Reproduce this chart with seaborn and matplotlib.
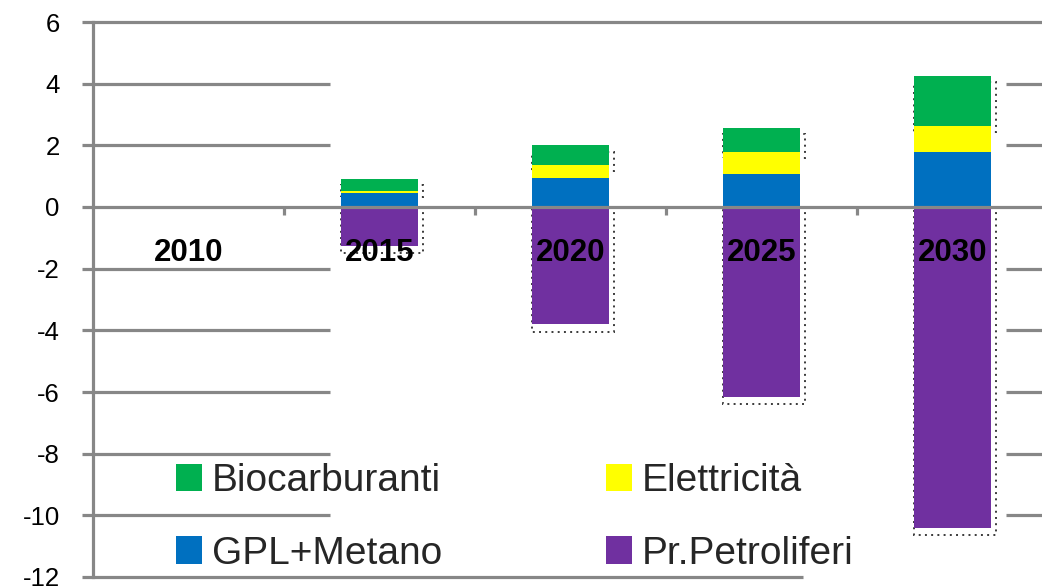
import numpy as np
import matplotlib
matplotlib.use('Agg')
import matplotlib.pyplot as plt
import seaborn as sns
from matplotlib.patches import Patch

# Data
years = ['2010', '2015', '2020', '2025', '2030']
gpl_metano = [0.0, 0.45, 0.95, 1.07, 1.78]
elettricita = [0.0, 0.07, 0.42, 0.71, 0.85]
biocarburanti = [0.0, 0.40, 0.63, 0.78, 1.62]
pr_petroliferi = [0.0, -1.25, -3.80, -6.15, -10.40]

# legend order (filled column by column -> rows read Bio/Elett, GPL/Petrol)
legend_names = ['Biocarburanti', 'GPL+Metano', 'Elettricità', 'Pr.Petroliferi']
colors = {'Biocarburanti': '#00B050', 'Elettricità': '#FFFF00',
          'GPL+Metano': '#0070C0', 'Pr.Petroliferi': '#7030A0'}
yticks = list(range(-12, 7, 2))

sns.set_style('white')
plt.rcParams['font.family'] = ['Liberation Sans', 'DejaVu Sans']
plt.rcParams['axes.unicode_minus'] = False
plt.rcParams['axes.grid'] = False

GRAY = '#878787'

fig = plt.figure(figsize=(10.42, 5.87), dpi=100)
ax = fig.add_axes([93 / 1042, 1 - 577 / 587, 955 / 1042, 555 / 587])

x = np.arange(len(years))
gpl = np.array(gpl_metano)
ele = np.array(elettricita)
bio = np.array(biocarburanti)
pet = np.array(pr_petroliferi)

# dotted "shadow" outlines behind the bars
shadow_kw = dict(facecolor='none', edgecolor='#3a3a3a', linewidth=1.4,
                 linestyle=(0, (1, 2.2)), zorder=1)
has = pet != 0
ax.bar(x[has] + 0.012, bio[has], width=0.43, bottom=(gpl + ele - 0.2)[has], **shadow_kw)
ax.bar(x[has] + 0.012, pet[has] - 0.25, width=0.43, bottom=0, **shadow_kw)

# stacked positive bars (drawn back to front) and the negative bar
bar_kw = dict(width=0.4, saturation=1, ax=ax, zorder=2, linewidth=0)
sns.barplot(x=years, y=gpl + ele + bio, color=colors['Biocarburanti'], **bar_kw)
sns.barplot(x=years, y=gpl + ele, color=colors['Elettricità'], **bar_kw)
sns.barplot(x=years, y=gpl, color=colors['GPL+Metano'], **bar_kw)
sns.barplot(x=years, y=pet, color=colors['Pr.Petroliferi'], **bar_kw)

ax.set_xlim(-0.5, len(years) - 0.5)
ax.set_ylim(-12, 6)
ax.set_xlabel('')
ax.set_ylabel('')
ax.grid(False)

# gridlines (interrupted as in the reference)
ax.hlines(6, -0.5, 4.5, color=GRAY, lw=2.3, zorder=0, clip_on=False)
for yv in yticks:
    if yv in (6, 0, -12):
        continue
    ax.hlines(yv, -0.5, 0.741, color=GRAY, lw=2.3, zorder=0)
    ax.hlines(yv, 4.28, 4.5, color=GRAY, lw=2.3, zorder=0)
ax.hlines(-12, -0.5, 3.217, color=GRAY, lw=2.3, zorder=0, clip_on=False)

# spines: left axis and zero line
for s in ['top', 'right']:
    ax.spines[s].set_visible(False)
ax.spines['left'].set_color(GRAY)
ax.spines['left'].set_linewidth(2.3)
ax.spines['bottom'].set_position(('data', 0))
ax.spines['bottom'].set_color(GRAY)
ax.spines['bottom'].set_linewidth(2.3)
ax.spines['bottom'].set_zorder(3)

ax.set_yticks(yticks)
ax.set_yticklabels([str(v) for v in yticks], fontsize=18.5)
ax.tick_params(axis='y', direction='out', length=8, width=2.3, color=GRAY, pad=16,
               labelcolor='black', left=True)
ax.set_xticks(x[:-1] + 0.5)
ax.set_xticklabels([])
ax.tick_params(axis='x', direction='out', length=6, width=2.3, color=GRAY, bottom=True)

# category labels
for i, yr in enumerate(years):
    ax.text(i, -1.5, yr, ha='center', va='center', fontsize=22.5,
            fontweight='bold', color='black', zorder=4)

handles = [Patch(facecolor=colors[n], edgecolor='none') for n in legend_names]
leg = ax.legend(handles, legend_names, ncol=2, frameon=False,
                loc='upper left', bbox_to_anchor=(176 / 1042, 1 - 463 / 587),
                bbox_transform=fig.transFigure, borderpad=0, borderaxespad=0,
                handlelength=0.67, handleheight=0.72,
                handletextpad=0.26, labelspacing=0.95, columnspacing=4.2,
                prop={'family': ['Liberation Sans', 'DejaVu Sans'], 'size': 28})

fig.savefig('out.png', dpi=100)
